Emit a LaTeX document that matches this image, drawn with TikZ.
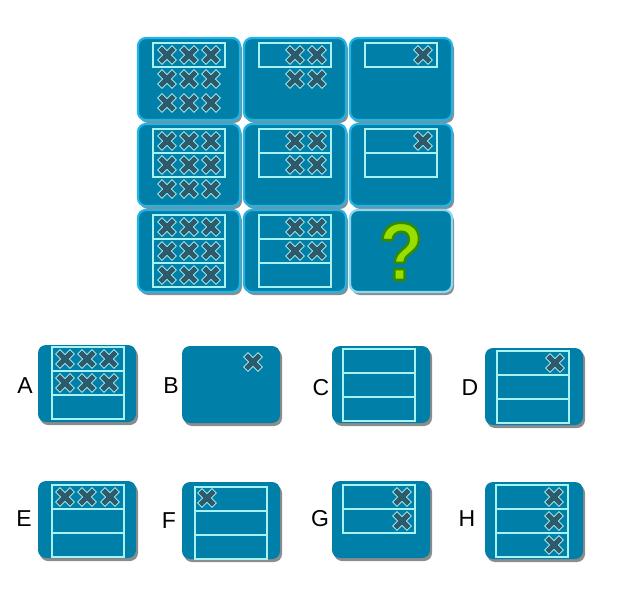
\documentclass[tikz,border=0pt]{standalone}
\usepackage{fontspec}
\setmainfont{Liberation Sans}
\definecolor{tilefill}{HTML}{0080A8}
\definecolor{tileedge}{HTML}{22B4E6}
\definecolor{qedge}{HTML}{8AD8F2}
\definecolor{stripcol}{HTML}{A8F2F2}
\definecolor{crossdark}{HTML}{2E5B6B}
\definecolor{crosslight}{HTML}{B4F4F4}
\definecolor{qgreen}{HTML}{9ADD00}

\tikzset{
  tileshadow/.style={fill=black,opacity=0.45,rounded corners=8pt},
  gridbody/.style={fill=tilefill,draw=tileedge,line width=2.2pt,rounded corners=8pt},
  answerbody/.style={fill=tilefill,rounded corners=8pt},
  stripline/.style={draw=stripcol,line width=1.4pt},
  crossedge/.style={draw=crosslight,line width=7pt,line cap=rect},
  crossbody/.style={draw=crossdark,line width=5pt,line cap=rect},
  letter/.style={anchor=base,font=\fontsize{23pt}{23pt}\selectfont}
}

% one cross mark centred at (#1,#2)
\newcommand{\crossat}[2]{%
  \draw[crossedge] (#1-5,#2-5) -- (#1+5,#2+5) (#1-5,#2+5) -- (#1+5,#2-5);
  \draw[crossbody] (#1-5,#2-5) -- (#1+5,#2+5) (#1-5,#2+5) -- (#1+5,#2-5);}
% tile of the 3x3 grid, top left corner at (#1,#2)
\newcommand{\gridtile}[2]{%
  \fill[tileshadow] (#1+2,#2+3) rectangle ++(102,82);
  \filldraw[gridbody] (#1,#2) rectangle ++(102,82);}
% answer tile, top left corner at (#1,#2)
\newcommand{\answertile}[2]{%
  \fill[tileshadow] (#1+2,#2+3) rectangle ++(98,77);
  \fill[answerbody] (#1,#2) rectangle ++(98,77);}
% #3 stacked strips from (#1,#2)
\newcommand{\strips}[3]{%
  \foreach \k in {1,...,#3} \draw[stripline] (#1,#2+24*\k-24) rectangle ++(72,24);}
% green question mark with a dark green outline
\newcommand{\outlinedq}{\color{qgreen}\special{pdf:literal direct 0.2 0.55 0 RG 2.6 w 1 j 2 Tr}?\special{pdf:literal direct 0 Tr}}

\begin{document}
\begin{tikzpicture}[x=1pt,y=-1pt]
\useasboundingbox (0,0) rectangle (618,604);

% grid, row 1
\gridtile{138}{38}
\strips{153}{43}{1}
\foreach \cx in {167,189,211} \foreach \cy in {55,79,103} {\crossat{\cx}{\cy}}
\gridtile{244}{38}
\strips{259}{43}{1}
\foreach \cx in {295,317} \foreach \cy in {55,79} {\crossat{\cx}{\cy}}
\gridtile{350}{38}
\strips{365}{43}{1}
\crossat{423}{55}

% grid, row 2
\gridtile{138}{124}
\strips{153}{129}{2}
\foreach \cx in {167,189,211} \foreach \cy in {141,165,189} {\crossat{\cx}{\cy}}
\gridtile{244}{124}
\strips{259}{129}{2}
\foreach \cx in {295,317} \foreach \cy in {141,165} {\crossat{\cx}{\cy}}
\gridtile{350}{124}
\strips{365}{129}{2}
\crossat{423}{141}

% grid, row 3
\gridtile{138}{210}
\strips{153}{215}{3}
\foreach \cx in {167,189,211} \foreach \cy in {227,251,275} {\crossat{\cx}{\cy}}
\gridtile{244}{210}
\strips{259}{215}{3}
\foreach \cx in {295,317} \foreach \cy in {227,251} {\crossat{\cx}{\cy}}
\fill[tileshadow] (352,213) rectangle ++(102,82);
\filldraw[gridbody,draw=qedge] (350,210) rectangle ++(102,82);
\node[anchor=base,font=\fontsize{82pt}{82pt}\selectfont\bfseries,xscale=0.88] (qmark) at (401,280) {\outlinedq};

% answers, row 1
\node[letter] (lblA) at (25,393) {A};
\answertile{38}{345}
\strips{52}{347}{3}
\foreach \cx in {65,87,109} \foreach \cy in {359,383} {\crossat{\cx}{\cy}}

\node[letter] (lblB) at (171,393) {B};
\answertile{182}{346}
\crossat{253}{362}

\node[letter] (lblC) at (321,395) {C};
\answertile{332}{346}
\strips{343}{349}{3}

\node[letter] (lblD) at (470,395) {D};
\answertile{485}{348}
\strips{497}{351}{3}
\crossat{555}{363}

% answers, row 2
\node[letter] (lblE) at (24,526) {E};
\answertile{38}{481}
\strips{52}{485}{3}
\foreach \cx in {65,87,110} {\crossat{\cx}{497}}

\node[letter] (lblF) at (169,528) {F};
\answertile{182}{482}
\strips{195}{487}{3}
\crossat{207}{498}

\node[letter] (lblG) at (320,526) {G};
\answertile{332}{481}
\strips{343}{485}{2}
\crossat{402}{497}
\crossat{402}{521}

\node[letter] (lblH) at (467,526) {H};
\answertile{485}{482}
\strips{496}{485}{3}
\foreach \cy in {497,521,545} {\crossat{554}{\cy}}
\end{tikzpicture}
\end{document}
